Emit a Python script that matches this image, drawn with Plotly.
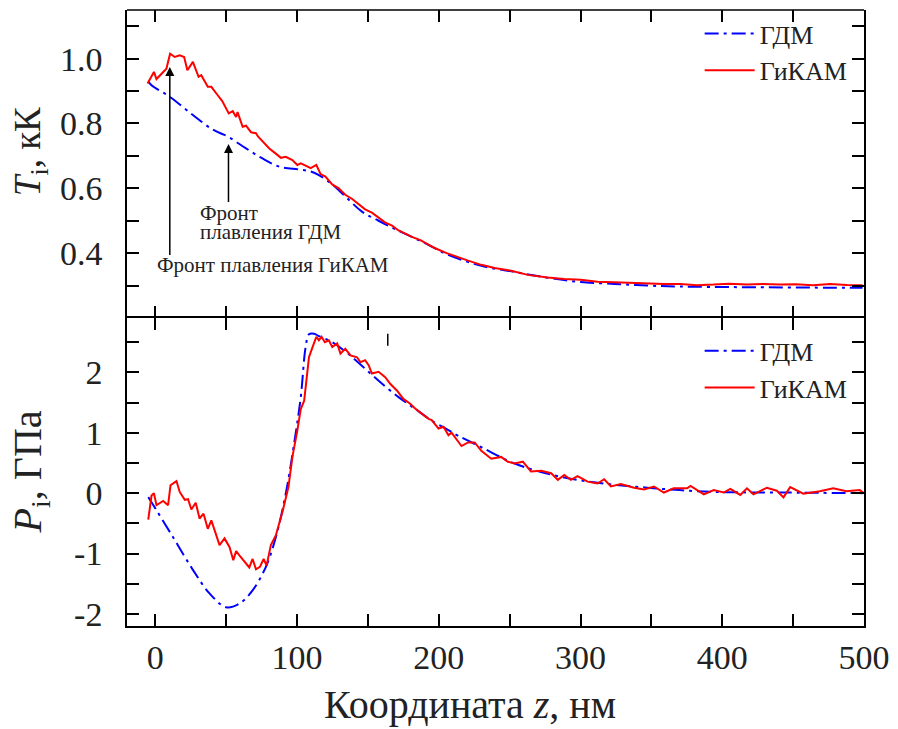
import plotly.graph_objects as go
from plotly.subplots import make_subplots

# ---- Data ----
t_gdm_z = [-5, -2.7, 10.2, 26.5, 40.6, 51.4, 64, 75.6, 87.4, 101.4, 109.6, 115.4, 124.8, 134, 145.8,
           157.5, 169.3, 181, 193, 205.5, 230, 253.5, 277, 300, 324, 347, 370, 417, 499]
t_gdm = [0.93, 0.918, 0.882, 0.826, 0.781, 0.759, 0.723, 0.692, 0.667, 0.658, 0.652, 0.641, 0.612, 0.575, 0.528,
         0.5, 0.474, 0.45, 0.425, 0.397, 0.361, 0.342, 0.324, 0.311, 0.305, 0.300, 0.297, 0.295, 0.293]

t_gikam_z = [-5.5, -1, 0.8, 5.5, 7.8, 10.4, 13.7, 17.2, 20.3, 22.6, 25.4, 26.5, 30.5, 32.4, 37, 39.5, 44, 47.2,
             51.8, 54.6, 57, 58, 61.6, 64, 67.5, 71, 72.4, 76.8, 80.4, 85, 88.6, 92, 96.7, 100.2, 102.6, 106,
             109.6, 113.6, 116.6, 120, 124.8, 129.4, 134, 138.9, 143.5, 148, 152.8, 157.5, 162, 167, 171.6,
             176.3, 181, 187, 193, 197.5, 205.5, 213.7, 220.7, 230, 239.4, 251, 262.8, 276.8, 288.5, 300.2,
             312, 323.7, 335.4, 347, 358.8, 370.5, 382.2, 393.9, 405, 417.3, 428, 440.7, 452, 464, 476, 488, 499]
t_gikam = [0.923, 0.959, 0.937, 0.957, 0.969, 1.015, 1.005, 1.01, 1.005, 0.964, 0.985, 0.99, 0.944, 0.949,
           0.913, 0.913, 0.887, 0.869, 0.831, 0.838, 0.82, 0.835, 0.79, 0.793, 0.773, 0.77, 0.76, 0.738, 0.723,
           0.707, 0.694, 0.697, 0.687, 0.672, 0.677, 0.67, 0.662, 0.672, 0.644, 0.636, 0.612, 0.6, 0.58, 0.567,
           0.551, 0.535, 0.525, 0.51, 0.495, 0.485, 0.47, 0.46, 0.45, 0.44, 0.425, 0.415, 0.40, 0.387, 0.377,
           0.364, 0.354, 0.346, 0.333, 0.325, 0.32, 0.318, 0.312, 0.31, 0.308, 0.305, 0.305, 0.305, 0.301,
           0.303, 0.306, 0.303, 0.305, 0.303, 0.304, 0.301, 0.305, 0.302, 0.301]

p_gdm_z = [-5, -2.7, 12.5, 26.5, 38.2, 50, 59.3, 68.6, 78, 85, 92, 97.9, 102.6, 106, 108.4, 112, 115.4,
           124.8, 136.5, 148, 160, 171.6, 183, 195, 205.5, 213.7, 230, 253.5, 277, 300, 323.7, 347, 370,
           394, 440.7, 499]
p_gdm = [-0.066, -0.15, -0.73, -1.27, -1.66, -1.89, -1.83, -1.61, -1.22, -0.73, -0.01, 0.82, 1.59, 2.41,
         2.63, 2.64, 2.6, 2.5, 2.3, 2.06, 1.81, 1.59, 1.4, 1.2, 1.06, 0.95, 0.76, 0.49, 0.32, 0.21, 0.14,
         0.09, 0.05, 0.02, 0.01, 0.0]

p_gikam_z = [-5, -2.7, -1, 0.8, 5.5, 9, 10.7, 14.9, 17.2, 20.8, 23.1, 25.4, 28.5, 31.2, 34, 37, 39.5, 45.3,
             48.8, 52.3, 55, 57, 59.3, 62.8, 66.3, 68.6, 71, 73.8, 76.4, 78.5, 81.5, 85, 89.7, 93.9, 96.7,
             100.2, 102.6, 105, 108.4, 110.8, 113.6, 115.4, 117.3, 119.6, 122.4, 124.8, 128.3, 130.6, 134,
             137.7, 142.3, 144.7, 148, 150.5, 152.8, 157.5, 162.2, 165.7, 170.4, 175, 179.8, 183.3, 188,
             192.8, 195, 199.8, 203.3, 206.8, 209, 216, 220.7, 225.3, 230, 237, 244, 248.7, 253.5, 259.3,
             265, 272.3, 279.3, 284, 288.5, 293.2, 297.9, 305, 312, 316.7, 321.4, 328.4, 337.8, 344.8,
             351.8, 358.8, 365.8, 375.2, 377.6, 387, 394, 401, 405.7, 412.7, 417.4, 422, 431.5, 438.5,
             443.2, 447.9, 457.2, 468.9, 478.3, 487.6, 497, 500]
p_gikam = [-0.44, -0.04, 0.0, -0.2, -0.13, -0.2, 0.13, 0.2, 0.02, -0.11, -0.1, -0.27, -0.16, -0.42, -0.34,
           -0.59, -0.45, -0.86, -0.75, -0.89, -1.11, -0.96, -1.03, -1.14, -1.23, -1.09, -1.26, -1.22, -1.09,
           -1.2, -0.86, -0.7, -0.31, 0.1, 0.6, 1.04, 1.39, 1.53, 2.25, 2.41, 2.59, 2.53, 2.59, 2.5, 2.53,
           2.42, 2.48, 2.31, 2.39, 2.28, 2.25, 2.17, 2.2, 2.12, 1.98, 2.01, 1.92, 1.81, 1.7, 1.56, 1.48, 1.4,
           1.32, 1.23, 1.21, 1.07, 1.1, 0.96, 1.0, 0.78, 0.84, 0.84, 0.7, 0.57, 0.6, 0.52, 0.49, 0.52, 0.36,
           0.37, 0.33, 0.22, 0.3, 0.22, 0.28, 0.19, 0.16, 0.23, 0.11, 0.15, 0.09, 0.06, 0.11, 0.01, 0.08,
           0.08, 0.12, -0.02, 0.05, 0.01, 0.07, -0.03, 0.08, -0.02, 0.09, 0.04, -0.07, 0.1, -0.01, 0.03,
           0.08, 0.03, 0.05, 0.0]

x_major = [0, 100, 200, 300, 400, 500]
series_names = ["ГДМ", "ГиКАМ"]

FONT = "Liberation Serif"
TXT = "#222"
BLUE = "#0000ff"
RED = "#ff0000"
DASHDOT = "14px,5px,3px,5px"

fig = make_subplots(rows=2, cols=1, shared_xaxes=True, vertical_spacing=0.0)

fig.add_trace(go.Scatter(x=t_gdm_z, y=t_gdm, mode="lines", name=series_names[0],
                         line=dict(color=BLUE, width=2, dash=DASHDOT, shape="spline"),
                         legend="legend"), row=1, col=1)
fig.add_trace(go.Scatter(x=t_gikam_z, y=t_gikam, mode="lines", name=series_names[1],
                         line=dict(color=RED, width=2), legend="legend"), row=1, col=1)
fig.add_trace(go.Scatter(x=p_gdm_z, y=p_gdm, mode="lines", name=series_names[0],
                         line=dict(color=BLUE, width=2, dash=DASHDOT, shape="spline"),
                         legend="legend2"), row=2, col=1)
fig.add_trace(go.Scatter(x=p_gikam_z, y=p_gikam, mode="lines", name=series_names[1],
                         line=dict(color=RED, width=2), legend="legend2"), row=2, col=1)

axis_common = dict(showline=True, linecolor="black", linewidth=1.5, mirror="ticks",
                   ticks="inside", ticklen=12, tickwidth=1.5, tickcolor="black",
                   showgrid=False, zeroline=False,
                   tickfont=dict(family=FONT, size=34, color=TXT))

xtickvals = list(range(0, 501, 50))
xticktext = [str(v) if v in x_major else "" for v in xtickvals]

fig.update_xaxes(range=[-20, 500], tickmode="array", tickvals=xtickvals, ticktext=xticktext, **axis_common)
# top panel: ticks on both sides, its own lines hidden (shared border drawn by lower panel)
fig.update_xaxes(showticklabels=False, linecolor="rgba(0,0,0,0)", row=1, col=1)
fig.update_xaxes(ticklabelstandoff=0, row=2, col=1)

fig.update_yaxes(range=[0.2, 1.15], tickvals=[0.4, 0.6, 0.8, 1.0], ticktext=["0.4", "0.6", "0.8", "1.0"],
                 minor=dict(dtick=0.1, tick0=0, ticks="inside", ticklen=12, tickwidth=1.5, tickcolor="black"),
                 ticklabelstandoff=16, row=1, col=1, **axis_common)
fig.update_yaxes(range=[-2.2, 2.9], tickvals=[-2, -1, 0, 1, 2], ticktext=["-2", "-1", "0", "1", "2"],
                 minor=dict(dtick=0.5, tick0=0, ticks="inside", ticklen=12, tickwidth=1.5, tickcolor="black"),
                 ticklabelstandoff=16, row=2, col=1, **axis_common)

legend_style = dict(font=dict(family=FONT, size=26, color=TXT), bgcolor="rgba(0,0,0,0)",
                    xanchor="left", yanchor="top", itemwidth=50, tracegroupgap=0)

fig.update_layout(
    width=898, height=729,
    margin=dict(l=127, r=30, t=8, b=103),
    paper_bgcolor="white", plot_bgcolor="white",
    font=dict(family=FONT),
    legend=dict(x=0.777, y=1.0, **legend_style),
    legend2=dict(x=0.777, y=0.485, **legend_style),
)
fig.update_yaxes(domain=[0.5, 1.0], row=1, col=1)
fig.update_yaxes(domain=[0.0, 0.5], row=2, col=1)

# top border of upper panel
fig.add_shape(type="line", xref="paper", yref="paper", x0=0, x1=1, y0=1, y1=1,
              line=dict(color="black", width=1.5))

# axis titles as annotations (positioned as in the reference)
title_font = dict(family=FONT, size=40, color=TXT)
fig.add_annotation(x=0.4656, y=-0.128, xref="paper", yref="paper", xanchor="center", yanchor="middle",
                   text="Координата <i>z</i>, нм", showarrow=False, font=title_font)
fig.add_annotation(x=-0.131, y=0.770, xref="paper", yref="paper", xanchor="center", yanchor="middle",
                   textangle=-90, text="<i>T</i><sub>i</sub>, кК", showarrow=False,
                   font=dict(family=FONT, size=37, color=TXT))
fig.add_annotation(x=-0.131, y=0.250, xref="paper", yref="paper", xanchor="center", yanchor="middle",
                   textangle=-90, text="<i>P</i><sub>i</sub>, ГПа", showarrow=False, font=title_font)

ann_font = dict(family=FONT, size=21, color=TXT)
fig.add_annotation(x=10.2, y=0.974, ax=10.2, ay=0.39, xref="x", yref="y", axref="x", ayref="y",
                   text="", showarrow=True, arrowhead=2, arrowsize=1.2, arrowwidth=1.5, arrowcolor="black")
fig.add_annotation(x=51.6, y=0.737, ax=51.6, ay=0.553, xref="x", yref="y", axref="x", ayref="y",
                   text="", showarrow=True, arrowhead=2, arrowsize=1.2, arrowwidth=1.5, arrowcolor="black")
fig.add_annotation(x=0, y=0.362, xref="x", yref="y", xanchor="left", yanchor="middle",
                   text="Фронт плавления ГиКАМ", showarrow=False, font=ann_font)
fig.add_annotation(x=30, y=0.524, xref="x", yref="y", xanchor="left", yanchor="middle",
                   text="Фронт", showarrow=False, font=ann_font)
fig.add_annotation(x=30, y=0.465, xref="x", yref="y", xanchor="left", yanchor="middle",
                   text="плавления ГДМ", showarrow=False, font=ann_font)

fig.add_shape(type="line", x0=164, x1=164, y0=2.44, y1=2.64, xref="x2", yref="y2",
              line=dict(color="black", width=1.5))

fig.write_html("out.html")
